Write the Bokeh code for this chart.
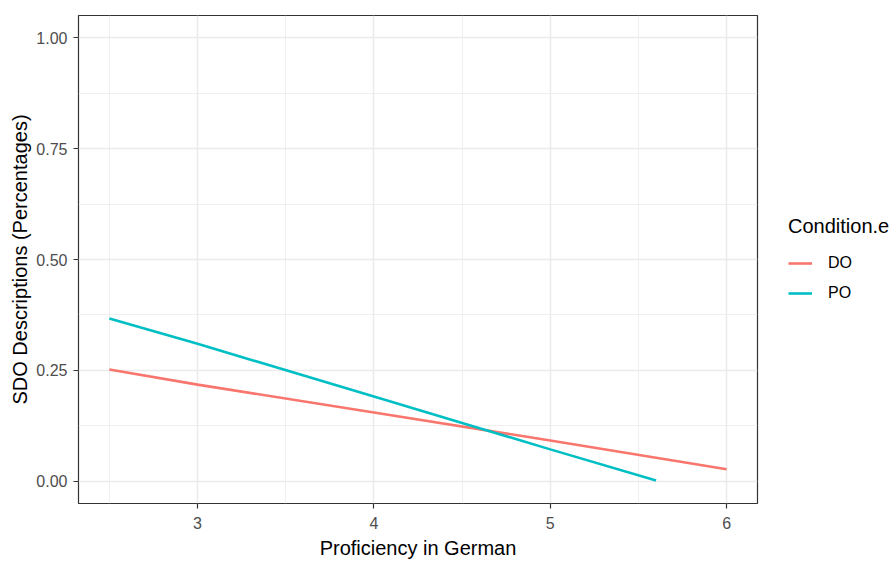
from bokeh.plotting import figure
from bokeh.layouts import row
from bokeh.models import Range1d, FixedTicker, Legend, LegendItem, NumeralTickFormatter
from bokeh.embed import file_html
from bokeh.resources import INLINE

# Data
proficiency_do = [2.5, 3.0, 4.0, 5.0, 6.0]
sdo_do = [0.252, 0.218, 0.155, 0.092, 0.027]
proficiency_po = [2.5, 3.0, 4.0, 5.0, 5.6]
sdo_po = [0.367, 0.310, 0.191, 0.072, 0.002]
x_ticks = [3, 4, 5, 6]
y_ticks = [0.0, 0.25, 0.5, 0.75, 1.0]
conditions = ["DO", "PO"]
colors = ["#F8766D", "#00BFC4"]

FONT = "Liberation Sans"

p = figure(width=759, height=561, output_backend="svg", toolbar_location=None,
           x_range=Range1d(2.325, 6.175), y_range=Range1d(-0.05, 1.05),
           min_border_left=78, min_border_top=15, min_border_right=2, min_border_bottom=57,
           background_fill_color="white", border_fill_color="white")

p.outline_line_color = "#333333"
p.outline_line_width = 1.2

p.xaxis.ticker = FixedTicker(ticks=x_ticks, minor_ticks=[2.5, 3.5, 4.5, 5.5])
p.yaxis.ticker = FixedTicker(ticks=y_ticks, minor_ticks=[0.125, 0.375, 0.625, 0.875])
p.yaxis.formatter = NumeralTickFormatter(format="0.00")

for ax in (p.xaxis, p.yaxis):
    ax.axis_line_color = None
    ax.major_tick_line_color = "#333333"
    ax.major_tick_line_width = 1.2
    ax.major_tick_in = 0
    ax.major_tick_out = 5
    ax.minor_tick_line_color = None
    ax.major_label_text_font = FONT
    ax.major_label_text_font_size = "16px"
    ax.major_label_text_color = "#4D4D4D"
    ax.axis_label_text_font = FONT
    ax.axis_label_text_font_size = "20px"
    ax.axis_label_text_font_style = "normal"
    ax.axis_label_text_color = "black"

p.xaxis.axis_label = "Proficiency in German"
p.yaxis.axis_label = "SDO Descriptions (Percentages)"
p.xaxis.major_label_standoff = 8
p.xaxis.axis_label_standoff = 5
p.yaxis.major_label_standoff = 6
p.yaxis.axis_label_standoff = 2

for g in (p.xgrid, p.ygrid):
    g.grid_line_color = "#EBEBEB"
    g.grid_line_width = 1.5
    g.minor_grid_line_color = "#EBEBEB"
    g.minor_grid_line_width = 0.8

p.line(proficiency_do, sdo_do, line_color=colors[0], line_width=2.6)
p.line(proficiency_po, sdo_po, line_color=colors[1], line_width=2.6)

# Legend panel (separate figure to the right of the plot)
lg = figure(width=136, height=561, output_backend="svg", toolbar_location=None,
            x_range=Range1d(0, 1), y_range=Range1d(0, 1),
            min_border_left=0, min_border_right=0, min_border_top=0, min_border_bottom=0,
            background_fill_color="white", border_fill_color="white")
lg.axis.visible = False
lg.grid.visible = False
lg.outline_line_color = None
# key renderers kept outside the visible range; only their legend swatches show
k_do = lg.line([-5, -4], [-5, -4], line_color=colors[0], line_width=2.6)
k_po = lg.line([-5, -4], [-5, -4], line_color=colors[1], line_width=2.6)

legend = Legend(items=[LegendItem(label=conditions[0], renderers=[k_do]),
                       LegendItem(label=conditions[1], renderers=[k_po])],
                location=(29, 195), orientation="vertical")
legend.title = "Condition.e"
legend.title_text_font = FONT
legend.title_text_font_size = "20px"
legend.title_text_font_style = "normal"
legend.title_text_color = "black"
legend.title_standoff = 10
legend.label_text_font = FONT
legend.label_text_font_size = "16px"
legend.label_text_color = "black"
legend.glyph_width = 24
legend.glyph_height = 30
legend.label_height = 30
legend.label_standoff = 16
legend.spacing = 0
legend.padding = 0
legend.margin = 0
legend.border_line_color = None
legend.background_fill_alpha = 0
lg.add_layout(legend)

layout = row(p, lg, spacing=0)
open("out.html", "w").write(file_html(layout, INLINE))
